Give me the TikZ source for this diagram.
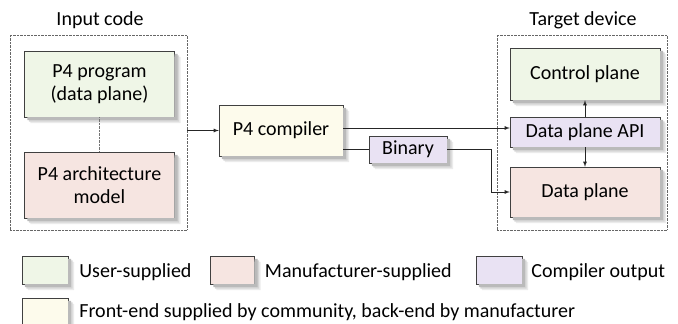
\documentclass[tikz,border=0pt]{standalone}
\usepackage{fontspec}
\setmainfont{Carlito}
\usepackage{xcolor}
\usetikzlibrary{calc}
\usetikzlibrary{positioning}

\definecolor{usergreen}{HTML}{EFF6E7}
\definecolor{manupink}{HTML}{F6E5E1}
\definecolor{outpurple}{HTML}{E9E2F3}
\definecolor{commyellow}{HTML}{FDFBEC}

\tikzset{
  box/.style={draw=black!75,fill=#1,align=center,inner sep=0pt},
  frame/.style={draw=black!60,densely dotted,inner sep=0pt},
  wire/.style={draw=black!85,line width=0.8pt},
  every node/.style={font=\fontsize{20}{23}\selectfont}
}

\begin{document}
\begin{tikzpicture}[x=1pt,y=-1pt]
\useasboundingbox (0,0) rectangle (678,324);
% input side
\node[frame,minimum width=177,minimum height=195] (inp) at (98.5,132.5) {};
\node (inptitle) at (100,20) {Input code};
\node[box=usergreen,minimum width=150,minimum height=66] (prog) at (99.5,84) {P4 program\\(data plane)};
\node[box=manupink,minimum width=150,minimum height=66] (arch) at (99.5,185) {P4 architecture\\model};
% compiler
\node[box=commyellow,minimum width=124,minimum height=51] (comp) at (281,130.5) {P4 compiler};
\node[box=outpurple,minimum width=78,minimum height=27] (bin) at (408,149.5) {Binary};
% target side
\node[frame,minimum width=170,minimum height=195] (tgt) at (582,132.5) {};
\node (tgttitle) at (583,20) {Target device};
\node[box=usergreen,minimum width=150,minimum height=52] (ctrl) at (585,74) {Control plane};
\node[box=outpurple,minimum width=150,minimum height=30] (api) at (585,132) {Data plane API};
\node[box=manupink,minimum width=150,minimum height=50] (dp) at (585,192) {Data plane};
\coordinate (bend) at (491,0);
% legend
\node[box=usergreen,minimum width=46,minimum height=28] (lg1) at (45,270) {};
\node[right=11pt of lg1,inner sep=0pt,yshift=-2pt] (lt1) {User-supplied};
\node[box=manupink,minimum width=44,minimum height=28] (lg2) at (232.5,270) {};
\node[right=10pt of lg2,inner sep=0pt,yshift=-2pt] (lt2) {Manufacturer-supplied};
\node[box=outpurple,minimum width=46,minimum height=28] (lg3) at (499,270) {};
\node[right=9pt of lg3,inner sep=0pt,yshift=-2pt] (lt3) {Compiler output};
\node[box=commyellow,minimum width=46,minimum height=28] (lg4) at (45,312) {};
\node[right=11pt of lg4,inner sep=0pt] (lt4) {Front-end supplied by community, back-end by manufacturer};
% shadows along the lower right edges
\foreach \n in {prog,arch,comp,bin,ctrl,api,dp,lg1,lg2,lg3,lg4}
  \foreach \d/\g in {6/8,4.5/16,3/27}
    \fill[black!\g] ($(\n.south west)+(\d,0)$) -- ($(\n.south west)+(\d,\d)$)
      -- ($(\n.south east)+(\d,\d)$) -- ($(\n.north east)+(\d,\d)$)
      -- ($(\n.north east)+(0,\d)$) -- (\n.south east) -- cycle;
% connectors
\draw[draw=black!55,densely dotted] (prog) -- (arch);
\draw[wire,-latex] (inp.east |- comp.west) -- (comp.west);
\draw[wire,-latex] (comp.east |- 0,128) -- (api.west |- 0,128);
\draw[wire] (comp.east |- bin.west) -- (bin.west);
\draw[wire,-latex] (bin.east) -- (bin.east -| bend) |- (dp.west);
\draw[wire,-latex] (api.north) -- (ctrl.south);
\draw[wire,-latex] (api.south) -- (dp.north);
\end{tikzpicture}
\end{document}
